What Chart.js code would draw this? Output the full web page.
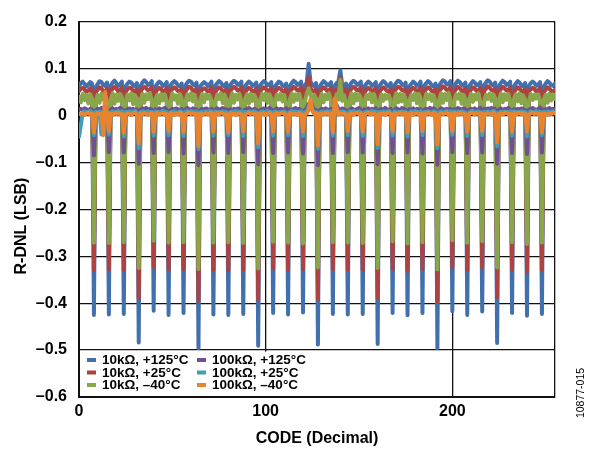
<!DOCTYPE html>
<html>
<head>
<meta charset="utf-8">
<script src="https://cdn.jsdelivr.net/npm/chart.js@4.4.1/dist/chart.umd.min.js"></script>
<style>
html,body{margin:0;padding:0;background:#fff;}
#wrap{width:599px;height:454px;position:relative;}
</style>
</head>
<body>
<div id="wrap"><canvas id="c" width="599" height="454"></canvas></div>
<script>
// x categories: codes 0..255
const codes = Array.from({length: 256}, (_, i) => i);
const xTicks = [0, 100, 200];
const yTicks = [0.2, 0.1, 0, -0.1, -0.2, -0.3, -0.4, -0.5, -0.6];
const seriesNames = ['10k\u03A9, +125\u00B0C', '10k\u03A9, +25\u00B0C', '10k\u03A9, \u201340\u00B0C',
                     '100k\u03A9, +125\u00B0C', '100k\u03A9, +25\u00B0C', '100k\u03A9, \u201340\u00B0C'];

const r10k_125 = [
0.063,0.069,0.072,0.067,0.062,0.066,0.071,0.068,
-0.425,0.061,0.067,0.073,0.071,0.065,0.063,0.070,
-0.424,0.064,0.070,0.074,0.069,0.063,0.066,0.072,
-0.423,0.062,0.068,0.072,0.070,0.064,0.062,0.069,
-0.484,0.063,0.070,0.075,0.071,0.065,0.067,0.073,
-0.416,0.062,0.068,0.072,0.069,0.063,0.065,0.071,
-0.425,0.064,0.069,0.073,0.070,0.064,0.062,0.068,
-0.421,0.063,0.070,0.074,0.072,0.066,0.064,0.070,
-0.496,0.062,0.067,0.071,0.068,0.063,0.066,0.072,
-0.424,0.063,0.069,0.073,0.070,0.064,0.062,0.069,
-0.425,0.064,0.070,0.074,0.071,0.065,0.067,0.072,
-0.423,0.062,0.068,0.072,0.069,0.063,0.065,0.070,
-0.491,0.063,0.069,0.073,0.070,0.064,0.066,0.071,
-0.421,0.062,0.067,0.072,0.070,0.064,0.062,0.068,
-0.424,0.063,0.069,0.074,0.071,0.065,0.067,0.072,
-0.420,0.064,0.070,0.110,0.072,0.065,0.063,0.069,
-0.488,0.062,0.068,0.073,0.070,0.064,0.066,0.071,
-0.423,0.063,0.069,0.072,0.096,0.065,0.062,0.068,
-0.424,0.064,0.070,0.074,0.071,0.065,0.067,0.072,
-0.423,0.062,0.068,0.072,0.069,0.063,0.066,0.071,
-0.487,0.063,0.069,0.073,0.070,0.064,0.062,0.069,
-0.421,0.064,0.070,0.074,0.072,0.066,0.064,0.070,
-0.426,0.062,0.067,0.072,0.069,0.063,0.066,0.072,
-0.421,0.063,0.069,0.073,0.070,0.064,0.062,0.068,
-0.496,0.064,0.070,0.075,0.072,0.066,0.067,0.073,
-0.417,0.063,0.069,0.074,0.071,0.065,0.063,0.070,
-0.425,0.062,0.068,0.073,0.070,0.064,0.066,0.071,
-0.418,0.064,0.070,0.075,0.072,0.066,0.064,0.070,
-0.485,0.063,0.069,0.074,0.071,0.065,0.067,0.072,
-0.421,0.062,0.068,0.073,0.070,0.064,0.062,0.069,
-0.427,0.063,0.069,0.072,0.069,0.063,0.066,0.071,
-0.423,0.062,0.068,0.073,0.070,0.064,0.063,0.068
];

const r10k_25 = [
0.052,0.057,0.059,0.055,0.050,0.053,0.058,0.056,
-0.329,0.050,0.055,0.060,0.058,0.052,0.050,0.057,
-0.328,0.052,0.057,0.061,0.057,0.051,0.054,0.059,
-0.330,0.050,0.056,0.059,0.058,0.052,0.050,0.056,
-0.390,0.051,0.057,0.061,0.058,0.053,0.055,0.060,
-0.323,0.050,0.055,0.059,0.056,0.051,0.053,0.058,
-0.328,0.052,0.056,0.060,0.057,0.052,0.050,0.056,
-0.327,0.051,0.057,0.061,0.059,0.053,0.052,0.057,
-0.395,0.050,0.055,0.058,0.056,0.051,0.054,0.059,
-0.329,0.051,0.056,0.060,0.057,0.052,0.050,0.056,
-0.330,0.052,0.057,0.061,0.058,0.053,0.055,0.059,
-0.328,0.050,0.055,0.059,0.056,0.051,0.053,0.057,
-0.392,0.051,0.056,0.060,0.057,0.052,0.054,0.058,
-0.326,0.050,0.055,0.059,0.057,0.052,0.050,0.056,
-0.329,0.051,0.056,0.061,0.058,0.053,0.055,0.059,
-0.327,0.052,0.057,0.082,0.059,0.053,0.051,0.056,
-0.391,0.050,0.056,0.060,0.057,0.052,0.054,0.058,
-0.328,0.051,0.056,0.059,0.080,0.053,0.050,0.056,
-0.329,0.052,0.057,0.061,0.058,0.053,0.055,0.059,
-0.330,0.050,0.055,0.059,0.056,0.051,0.054,0.058,
-0.389,0.051,0.056,0.060,0.057,0.052,0.050,0.056,
-0.327,0.052,0.057,0.061,0.059,0.054,0.052,0.057,
-0.331,0.050,0.055,0.059,0.056,0.051,0.054,0.059,
-0.327,0.051,0.056,0.060,0.057,0.052,0.050,0.056,
-0.396,0.052,0.057,0.062,0.059,0.054,0.055,0.060,
-0.324,0.051,0.056,0.061,0.058,0.053,0.051,0.057,
-0.330,0.050,0.055,0.060,0.057,0.052,0.054,0.058,
-0.325,0.052,0.057,0.062,0.059,0.054,0.052,0.057,
-0.388,0.051,0.056,0.061,0.058,0.053,0.055,0.059,
-0.328,0.050,0.055,0.060,0.057,0.052,0.050,0.056,
-0.333,0.051,0.056,0.059,0.056,0.051,0.054,0.058,
-0.329,0.050,0.055,0.060,0.057,0.052,0.051,0.055
];

const r10k_m40 = [
0.040,0.028,0.046,0.033,0.044,0.026,0.045,0.036,
-0.271,0.030,0.044,0.027,0.046,0.034,0.043,0.029,
-0.272,0.035,0.047,0.025,0.044,0.031,0.046,0.038,
-0.270,0.029,0.045,0.032,0.047,0.024,0.043,0.036,
-0.325,0.033,0.046,0.027,0.045,0.035,0.048,0.030,
-0.267,0.036,0.044,0.026,0.046,0.032,0.045,0.028,
-0.271,0.030,0.047,0.034,0.043,0.025,0.046,0.037,
-0.270,0.028,0.045,0.033,0.047,0.030,0.044,0.026,
-0.327,0.034,0.046,0.028,0.045,0.036,0.043,0.031,
-0.271,0.029,0.044,0.035,0.047,0.026,0.045,0.033,
-0.270,0.032,0.047,0.027,0.044,0.034,0.046,0.029,
-0.272,0.036,0.045,0.025,0.046,0.031,0.043,0.035,
-0.326,0.030,0.046,0.033,0.047,0.027,0.045,0.037,
-0.269,0.028,0.044,0.034,0.046,0.030,0.043,0.026,
-0.271,0.035,0.047,0.029,0.045,0.033,0.046,0.031,
-0.273,0.030,0.045,0.058,0.047,0.026,0.044,0.036,
-0.324,0.033,0.046,0.028,0.044,0.035,0.047,0.030,
-0.270,0.029,0.045,0.034,0.076,0.031,0.043,0.027,
-0.271,0.034,0.047,0.026,0.046,0.032,0.045,0.037,
-0.272,0.030,0.044,0.035,0.047,0.028,0.046,0.033,
-0.325,0.027,0.045,0.031,0.044,0.036,0.043,0.029,
-0.268,0.035,0.047,0.028,0.046,0.030,0.045,0.034,
-0.273,0.031,0.044,0.033,0.047,0.026,0.046,0.037,
-0.270,0.029,0.046,0.035,0.045,0.031,0.043,0.028,
-0.328,0.034,0.047,0.027,0.046,0.033,0.048,0.031,
-0.266,0.030,0.045,0.036,0.047,0.025,0.044,0.035,
-0.271,0.033,0.046,0.029,0.044,0.034,0.047,0.030,
-0.268,0.027,0.044,0.035,0.046,0.031,0.045,0.036,
-0.324,0.032,0.047,0.028,0.045,0.033,0.046,0.029,
-0.270,0.035,0.045,0.030,0.047,0.026,0.043,0.034,
-0.274,0.029,0.046,0.033,0.044,0.036,0.045,0.031,
-0.271,0.033,0.044,0.027,0.046,0.032,0.045,0.035
];

const r100k_125 = [
0.012,0.014,0.011,0.015,0.013,0.010,0.014,0.012,
-0.085,0.011,0.014,0.012,0.016,0.013,0.011,0.014,
-0.078,0.012,0.015,0.011,0.014,0.012,0.016,0.013,
-0.079,0.011,0.013,0.015,0.012,0.014,0.010,0.013,
-0.103,0.012,0.015,0.013,0.016,0.011,0.014,0.012,
-0.080,0.013,0.011,0.015,0.012,0.014,0.016,0.012,
-0.078,0.011,0.014,0.012,0.015,0.013,0.010,0.014,
-0.081,0.012,0.016,0.013,0.011,0.015,0.012,0.013,
-0.106,0.011,0.014,0.012,0.015,0.013,0.011,0.014,
-0.079,0.012,0.015,0.011,0.014,0.016,0.012,0.013,
-0.080,0.013,0.011,0.014,0.012,0.015,0.013,0.011,
-0.078,0.012,0.014,0.016,0.013,0.011,0.014,0.012,
-0.104,0.011,0.013,0.015,0.012,0.014,0.016,0.013,
-0.080,0.012,0.015,0.011,0.014,0.012,0.013,0.015,
-0.079,0.013,0.011,0.014,0.016,0.012,0.014,0.011,
-0.081,0.012,0.015,0.024,0.030,0.018,0.013,0.012,
-0.106,0.011,0.014,0.012,0.015,0.013,0.011,0.014,
-0.080,0.028,0.022,0.014,0.012,0.015,0.013,0.011,
-0.078,0.012,0.015,0.013,0.011,0.014,0.016,0.012,
-0.079,0.013,0.011,0.015,0.012,0.014,0.012,0.015,
-0.104,0.012,0.014,0.011,0.016,0.013,0.011,0.014,
-0.080,0.011,0.015,0.013,0.012,0.016,0.014,0.012,
-0.079,0.013,0.012,0.015,0.011,0.014,0.012,0.013,
-0.081,0.012,0.014,0.012,0.016,0.013,0.015,0.011,
-0.105,0.011,0.015,0.013,0.012,0.014,0.011,0.014,
-0.078,0.013,0.011,0.016,0.014,0.012,0.015,0.013,
-0.080,0.012,0.014,0.012,0.015,0.011,0.013,0.016,
-0.079,0.014,0.012,0.015,0.013,0.016,0.012,0.014,
-0.103,0.012,0.015,0.011,0.014,0.013,0.016,0.012,
-0.080,0.013,0.011,0.014,0.012,0.015,0.013,0.011,
-0.082,0.012,0.014,0.016,0.013,0.011,0.014,0.017,
-0.079,0.013,0.011,0.014,0.016,0.012,0.014,0.013
];

const r100k_25 = [
-0.045,-0.020,0.007,0.009,0.006,0.008,0.010,0.007,
-0.042,0.008,0.006,0.009,-0.040,0.007,0.009,0.008,
-0.041,0.007,0.009,0.006,0.008,0.010,0.007,0.009,
-0.045,0.008,0.006,0.009,0.007,0.008,0.010,0.006,
-0.070,0.007,0.009,0.008,0.006,0.009,0.007,0.008,
-0.043,0.009,0.007,0.006,0.008,0.010,0.008,0.007,
-0.042,0.006,0.008,0.009,0.007,0.006,0.009,0.008,
-0.044,0.008,0.010,0.007,0.009,0.008,0.006,0.009,
-0.072,0.007,0.008,0.006,0.009,0.007,0.010,0.008,
-0.043,0.009,0.007,0.008,0.006,0.009,0.008,0.007,
-0.042,0.006,0.009,0.007,0.010,0.008,0.006,0.009,
-0.044,0.008,0.006,0.009,0.007,0.008,0.009,0.007,
-0.068,0.007,0.009,0.008,0.006,0.010,0.007,0.008,
-0.043,0.009,0.007,0.006,0.008,0.007,0.009,0.006,
-0.042,0.008,0.010,0.007,0.009,0.006,0.008,0.009,
-0.044,0.007,0.008,0.018,0.026,0.012,0.007,0.008,
-0.071,0.006,0.009,0.007,0.008,0.010,0.006,0.009,
-0.043,0.024,0.016,0.008,0.007,0.009,0.008,0.006,
-0.042,0.009,0.007,0.010,0.008,0.006,0.009,0.007,
-0.044,0.007,0.009,0.006,0.008,0.010,0.007,0.009,
-0.069,0.008,0.006,0.009,0.007,0.008,0.010,0.006,
-0.043,0.009,0.007,0.008,0.006,0.009,0.007,0.008,
-0.045,0.006,0.009,0.007,0.010,0.008,0.006,0.009,
-0.042,0.008,0.007,0.009,0.006,0.007,0.009,0.008,
-0.070,0.007,0.009,0.006,0.008,0.010,0.007,0.009,
-0.041,0.009,0.006,0.008,0.007,0.009,0.008,0.006,
-0.044,0.007,0.009,0.010,0.008,0.006,0.009,0.007,
-0.042,0.008,0.006,0.009,0.007,0.008,0.010,0.008,
-0.066,0.006,0.008,0.007,0.009,0.007,0.006,0.009,
-0.043,0.009,0.007,0.008,0.006,0.009,0.008,0.007,
-0.045,0.007,0.009,0.006,0.008,0.010,0.007,0.008,
-0.042,0.008,0.006,0.009,0.007,0.008,0.009,0.006
];

const r100k_m40 = [
0.003,0.002,0.005,0.001,0.004,0.006,0.002,0.004,
-0.036,0.003,0.005,0.002,0.004,-0.042,0.050,0.003,
-0.033,0.004,0.001,0.005,0.003,0.006,0.002,0.004,
-0.037,0.002,0.005,0.003,0.001,0.004,0.006,0.003,
-0.060,0.004,0.002,0.005,0.003,0.001,0.004,0.005,
-0.034,0.003,0.006,0.002,0.004,0.005,0.001,0.003,
-0.033,0.005,0.003,0.001,0.004,0.002,0.006,0.004,
-0.035,0.002,0.004,0.006,0.003,0.005,0.002,0.003,
-0.066,0.004,0.001,0.003,0.005,0.002,0.004,0.006,
-0.034,0.003,0.005,0.002,0.006,0.004,0.001,0.003,
-0.036,0.005,0.002,0.004,0.001,0.003,0.005,0.002,
-0.033,0.002,0.004,0.006,0.003,0.005,0.002,0.004,
-0.060,0.004,0.002,0.005,0.001,0.003,0.006,0.003,
-0.034,0.003,0.005,0.002,0.004,0.006,0.003,0.001,
-0.035,0.005,0.002,0.004,0.003,0.001,0.005,0.003,
-0.034,0.002,0.004,0.012,0.034,0.010,0.003,0.005,
-0.064,0.004,0.001,0.005,0.003,0.006,0.002,0.004,
-0.036,0.036,0.015,0.002,0.004,0.003,0.005,0.002,
-0.033,0.003,0.005,0.001,0.004,0.006,0.003,0.005,
-0.035,0.002,0.004,0.006,0.002,0.003,0.005,0.001,
-0.061,0.004,0.003,0.005,0.001,0.004,0.006,0.003,
-0.034,0.005,0.002,0.003,0.006,0.002,0.004,0.005,
-0.036,0.003,0.005,0.001,0.004,0.005,0.002,0.004,
-0.033,0.004,0.002,0.006,0.003,0.001,0.005,0.003,
-0.062,0.002,0.005,0.003,0.004,0.006,0.001,0.004,
-0.034,0.005,0.003,0.001,0.006,0.003,0.004,0.002,
-0.035,0.003,0.006,0.004,0.002,0.005,0.003,0.005,
-0.033,0.004,0.002,0.005,0.003,0.001,0.006,0.003,
-0.057,0.003,0.005,0.002,0.004,0.006,0.003,0.004,
-0.035,0.005,0.001,0.004,0.006,0.002,0.005,0.003,
-0.034,0.002,0.004,0.006,0.003,0.005,0.002,0.004,
-0.036,0.004,0.003,0.001,0.005,0.003,0.006,0.004
];

const seriesData = [r10k_125, r10k_25, r10k_m40, r100k_125, r100k_25, r100k_m40];
const seriesColors = ['#4170AC', '#AD4240', '#89A64A', '#6F5091', '#3D9FB9', '#E9832E'];

const FONT = '"Liberation Sans", Arial, sans-serif';

const fmtY = v => {
  if (Math.abs(v) < 1e-9) return '0';
  return (v < 0 ? '\u2013' : '') + Math.abs(v).toFixed(1);
};

const extrasPlugin = {
  id: 'extras',
  afterDraw(chart) {
    const ctx = chart.ctx;
    const ca = chart.chartArea;
    ctx.save();
    // y axis title
    ctx.fillStyle = '#000';
    ctx.font = 'bold 16px ' + FONT;
    ctx.textAlign = 'center';
    ctx.textBaseline = 'middle';
    ctx.save();
    ctx.translate(22, 226);
    ctx.rotate(-Math.PI / 2);
    ctx.fillText('R-DNL (LSB)', 0, 0);
    ctx.restore();
    // figure code
    ctx.font = '10.5px ' + FONT;
    ctx.save();
    ctx.translate(581, 393);
    ctx.rotate(-Math.PI / 2);
    ctx.fillText('10877-015', 0, 0);
    ctx.restore();
    // legend inside plot area
    const yS = chart.scales.y;
    const top = yS.getPixelForValue(-0.5) + 1.5;
    const bottom = ca.bottom - 1;
    ctx.fillStyle = '#fff';
    ctx.fillRect(ca.left + 1, top, 240, bottom - top);
    ctx.font = 'bold 13.5px ' + FONT;
    ctx.textAlign = 'left';
    ctx.textBaseline = 'middle';
    const cols = [ca.left + 8, ca.left + 118];
    const rows = [360, 372.5, 385];
    seriesNames.forEach((name, i) => {
      const cx = cols[Math.floor(i / 3)];
      const cy = rows[i % 3];
      ctx.fillStyle = seriesColors[i];
      ctx.fillRect(cx, cy - 2, 9, 4);
      ctx.fillStyle = '#000';
      ctx.fillText(name, cx + 15, cy + 0.5);
    });
    ctx.restore();
  }
};

const orders = [6, 5, 4, 3, 2, 1];

new Chart(document.getElementById('c'), {
  type: 'line',
  data: {
    labels: codes,
    datasets: seriesData.map((d, i) => ({
      label: seriesNames[i],
      data: d,
      borderColor: seriesColors[i],
      backgroundColor: seriesColors[i],
      borderWidth: 4,
      pointRadius: 0,
      tension: 0,
      fill: false,
      borderJoinStyle: 'round',
      borderCapStyle: 'round',
      order: orders[i]
    }))
  },
  options: {
    responsive: false,
    animation: false,
    devicePixelRatio: 1,
    layout: { padding: { left: 0, right: 44, top: 15, bottom: 0 } },
    plugins: { legend: { display: false }, tooltip: { enabled: false } },
    scales: {
      x: {
        type: 'linear',
        min: 0, max: 255,
        afterFit: s => { s.height = 57; },
        afterBuildTicks: s => { s.ticks = xTicks.concat([255]).map(v => ({ value: v })); },
        ticks: {
          autoSkip: false, maxRotation: 0, padding: 5,
          color: '#000',
          font: { family: FONT, size: 16, weight: 'bold' },
          callback: v => (xTicks.includes(v) ? String(v) : '')
        },
        grid: { color: '#111', lineWidth: 1.3, drawTicks: false },
        border: { color: '#111', width: 2 },
        title: {
          display: true, text: 'CODE (Decimal)', color: '#000',
          font: { family: FONT, size: 16, weight: 'bold' },
          padding: { top: 0, bottom: 6 }
        }
      },
      y: {
        type: 'linear',
        min: -0.6, max: 0.2,
        afterFit: s => { s.width = 79; },
        afterBuildTicks: s => { s.ticks = yTicks.map(v => ({ value: v })); },
        ticks: {
          padding: 12, color: '#000',
          font: { family: FONT, size: 16, weight: 'bold' },
          callback: v => fmtY(v)
        },
        grid: { color: '#111', lineWidth: 1.3, drawTicks: false },
        border: { color: '#111', width: 2 }
      }
    }
  },
  plugins: [extrasPlugin]
});
</script>
</body>
</html>
